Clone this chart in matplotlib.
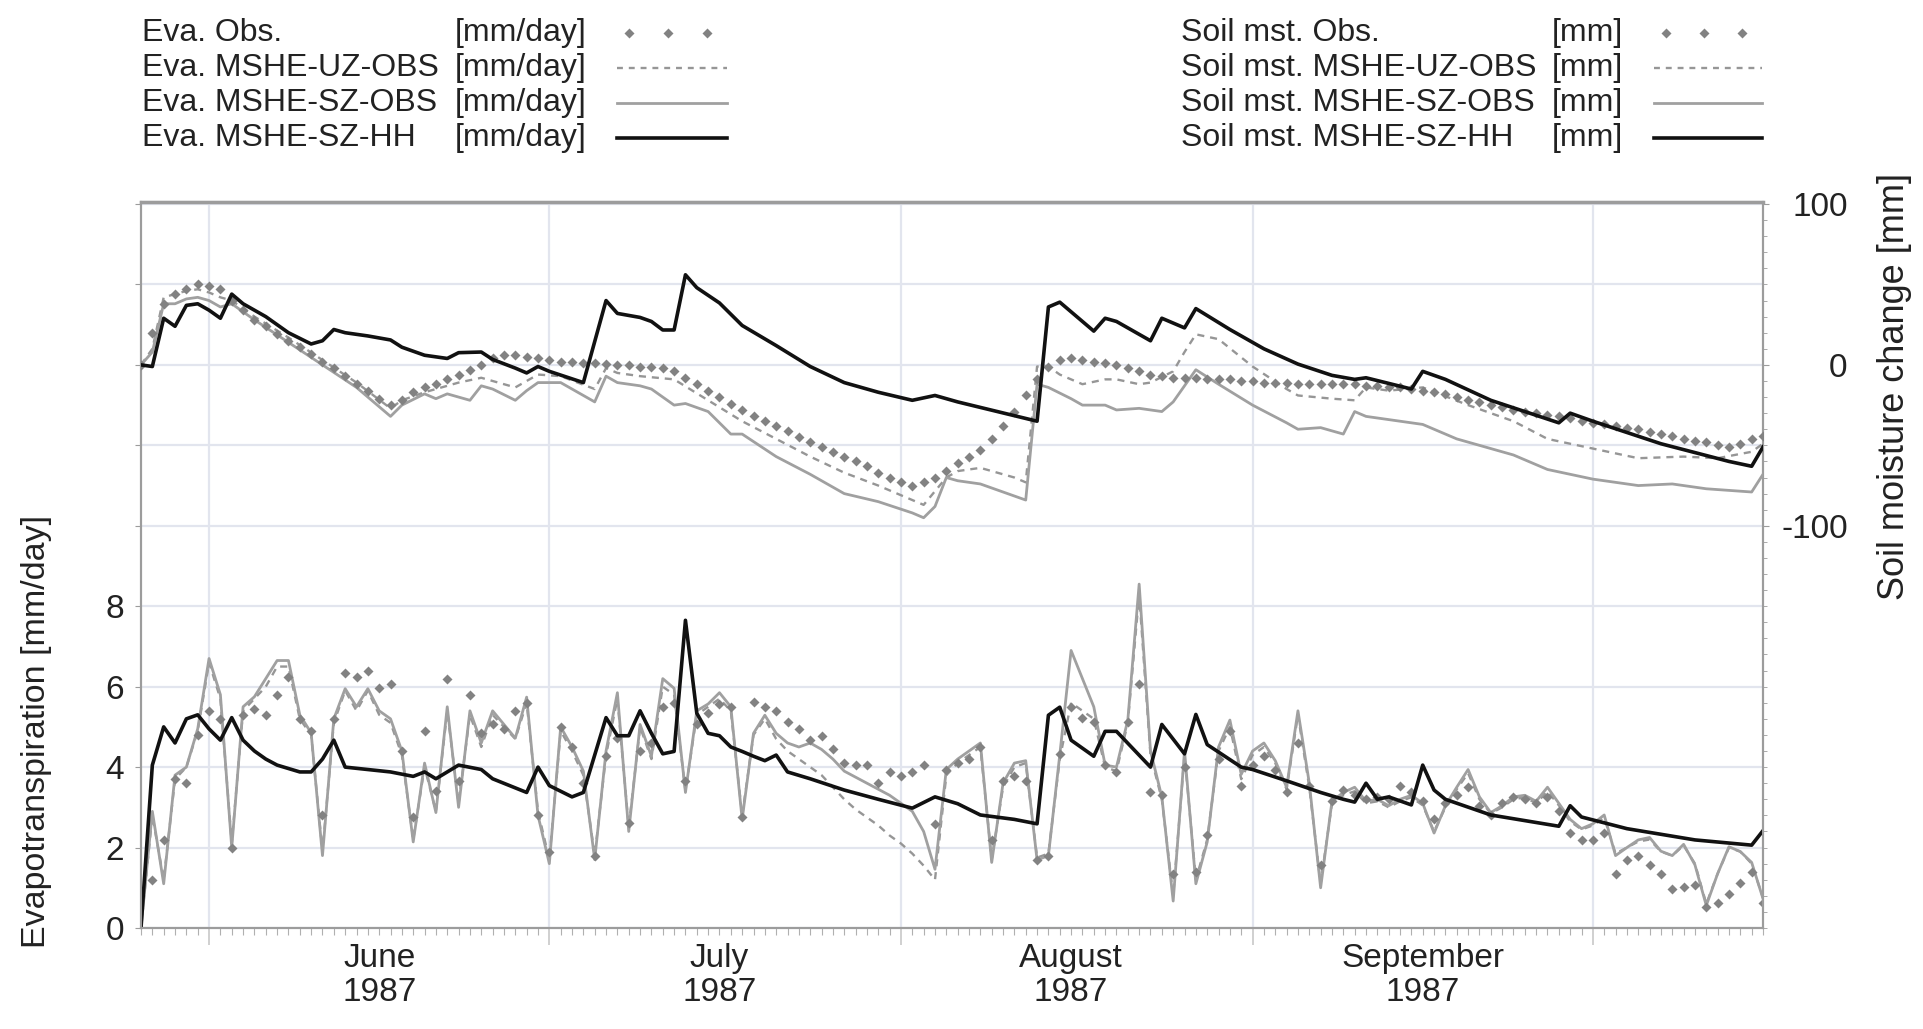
import numpy as np
import matplotlib
matplotlib.use("Agg")
import matplotlib.pyplot as plt
from matplotlib.lines import Line2D
from matplotlib.ticker import FixedLocator, MultipleLocator

plt.rcParams['font.family'] = ['Liberation Sans', 'DejaVu Sans']
plt.rcParams['axes.unicode_minus'] = False

START = np.datetime64('1987-05-26')
N_DAYS = 144

month_starts = ['1987-06-01', '1987-07-01', '1987-08-01', '1987-09-01', '1987-10-01']
month_mids = ['1987-06-16', '1987-07-16', '1987-08-16', '1987-09-16']
month_labels = ['June\n1987', 'July\n1987', 'August\n1987', 'September\n1987']

# ---- evapotranspiration [mm/day] ----
eva_obs_start = 1
eva_obs = [1.2, 2.2, 3.7, 3.6, 4.8, 5.4, 5.2, 2.0, 5.3, 5.45,
           5.3, 5.8, 6.25, 5.2, 4.9, 2.8, 5.2, 6.35, 6.25, 6.4,
           5.96, 6.07, 4.4, 2.76, 4.9, 3.4, 6.2, 3.66, 5.8, 4.84,
           5.06, 4.95, 5.4, 5.6, 2.8, 1.9, 5.0, 4.5, 3.6, 1.8,
           4.27, 4.72, 2.6, 4.4, 4.6, 5.5, 5.6, 3.66, 5.06, 5.34,
           5.57, 5.5, 2.76, 5.62, 5.5, 5.4, 5.12, 4.95, 4.67, 4.78,
           4.44, 4.1, 4.05, 4.05, 3.6, 3.88, 3.77, 3.88, 4.05, 2.59,
           3.94, 4.1, 4.2, 4.5, 2.2, 3.66, 3.77, 3.66, 1.69, 1.8,
           4.33, 5.5, 5.23, 5.12, 4.05, 3.88, 5.12, 6.07, 3.37, 3.3,
           1.35, 4.0, 1.4, 2.3, 4.2, 4.9, 3.54, 4.05, 4.27, 3.94,
           3.37, 4.6, 3.54, 1.57, 3.15, 3.43, 3.3, 3.2, 3.26, 3.2,
           3.54, 3.37, 3.15, 2.7, 3.1, 3.3, 3.5, 3.04, 2.81, 3.1,
           3.26, 3.2, 3.1, 3.26, 2.92, 2.36, 2.19, 2.19, 2.36, 1.35,
           1.69, 1.8, 1.57, 1.35, 0.96, 1.01, 1.07, 0.51, 0.62, 0.84,
           1.12, 1.4, 0.62]

eva_sz_obs = [0, 2.9, 1.1, 3.8, 4.0, 4.95, 6.7, 5.8, 2.0, 5.5,
              5.75, 6.2, 6.65, 6.65, 5.3, 4.85, 1.8, 5.2, 5.95, 5.5,
              5.95, 5.4, 5.2, 4.4, 2.14, 4.1, 2.87, 5.5, 3.0, 5.4,
              4.6, 5.4, 5.06, 4.72, 5.74, 2.8, 1.6, 5.0, 4.5, 3.9,
              1.7, 4.4, 5.85, 2.4, 5.06, 4.27, 6.2, 5.96, 3.37, 5.4,
              5.57, 5.85, 5.5, 2.7, 4.84, 5.29, 4.84, 4.6, 4.5, 4.6,
              4.44, 4.2, 3.9, 3.75, 3.6, 3.45, 3.3, 3.1, 2.9, 2.4,
              1.46, 3.94, 4.2, 4.4, 4.6, 1.63, 3.6, 4.1, 4.16, 1.69,
              1.8, 4.3, 6.9, 6.2, 5.5, 4.05, 4.0, 5.17, 8.55, 4.4,
              3.26, 0.67, 4.4, 1.1, 2.14, 4.5, 5.17, 3.82, 4.4, 4.6,
              4.16, 3.5, 5.4, 3.6, 1.0, 3.15, 3.37, 3.5, 3.15, 3.2,
              3.04, 3.2, 3.3, 3.1, 2.36, 3.04, 3.5, 3.94, 3.26, 2.87,
              3.04, 3.26, 3.3, 3.15, 3.5, 3.1, 2.7, 2.47, 2.59, 2.81,
              1.8, 2.0, 2.19, 2.25, 1.91, 1.8, 2.08, 1.57, 0.56, 1.35,
              2.02, 1.9, 1.63, 0.73]

eva_uz_obs = [0, 2.8, 1.2, 3.7, 4.0, 4.9, 6.6, 5.7, 2.1, 5.4,
              5.7, 6.0, 6.5, 6.5, 5.2, 4.8, 1.9, 5.1, 5.9, 5.4,
              5.9, 5.3, 5.1, 4.3, 2.2, 4.0, 2.9, 5.4, 3.1, 5.3,
              4.5, 5.3, 5.0, 4.7, 5.6, 2.9, 1.7, 4.9, 4.4, 3.8,
              1.8, 4.3, 5.7, 2.5, 5.0, 4.2, 6.0, 5.8, 3.4, 5.3,
              5.5, 5.7, 5.4, 2.8, 4.8, 5.2, 4.7, 4.4, 4.2, 4.0,
              3.8, 3.5, 3.2, 2.95, 2.75, 2.55, 2.3, 2.1, 1.85, 1.55,
              1.2, 3.8, 4.1, 4.3, 4.5, 1.7, 3.5, 4.0, 4.1, 1.75,
              1.85, 4.2, 5.6, 5.4, 5.2, 4.0, 3.9, 5.1, 8.3, 4.3,
              3.2, 0.8, 4.3, 1.2, 2.2, 4.4, 5.0, 3.7, 4.3, 4.5,
              4.1, 3.45, 5.3, 3.5, 1.1, 3.1, 3.3, 3.4, 3.1, 3.15,
              3.0, 3.15, 3.25, 3.05, 2.4, 3.0, 3.45, 3.85, 3.2, 2.85,
              3.0, 3.2, 3.25, 3.1, 3.4, 3.05, 2.65, 2.45, 2.55, 2.75,
              1.85, 2.0, 2.15, 2.2, 1.9, 1.8, 2.05, 1.6, 0.6, 1.35,
              2.0, 1.9, 1.6, 0.75]

eva_hh_days = [0, 1, 2, 3, 4, 5, 6, 7, 8, 9, 10, 11, 12,
               14, 15, 16, 17, 18, 20, 22, 24, 25, 26,
               28, 30, 31, 34, 35, 36, 38, 39, 41, 42,
               43, 44, 45, 46, 47, 48, 49, 50, 51, 52,
               53, 54, 55, 56, 57, 59, 62, 65, 68, 70,
               72, 74, 77, 79, 80, 81, 82, 84, 85, 86,
               89, 90, 92, 93, 94, 97, 98, 101, 104, 106,
               107, 108, 109, 110, 112, 113, 114, 115, 119, 125,
               126, 127, 131, 137, 142, 143]
eva_hh = [0, 4.05, 5.0, 4.6, 5.2, 5.3, 4.95, 4.67, 5.23, 4.67, 4.4, 4.2, 4.05,
          3.88, 3.88, 4.2, 4.67, 4.0, 3.94, 3.88, 3.77, 3.88, 3.71,
          4.05, 3.94, 3.71, 3.37, 4.0, 3.54, 3.26, 3.37, 5.23, 4.78,
          4.78, 5.4, 4.84, 4.33, 4.39, 7.65, 5.34, 4.84, 4.78, 4.5,
          4.39, 4.27, 4.16, 4.3, 3.88, 3.71, 3.43, 3.2, 2.98, 3.26,
          3.09, 2.81, 2.7, 2.59, 5.29, 5.49, 4.67, 4.27, 4.89, 4.89,
          4.0, 5.06, 4.33, 5.31, 4.56, 4.0, 3.94, 3.66, 3.37, 3.2,
          3.13, 3.6, 3.2, 3.26, 3.06, 4.05, 3.43, 3.2, 2.81, 2.53,
          3.04, 2.76, 2.47, 2.19, 2.06, 2.42]

# ---- soil moisture change [mm] ----
soil_obs = [0, 20, 38, 44, 47, 50, 49, 47, 40, 34,
            28, 24, 19, 15, 11, 7, 2, -2, -7, -12,
            -16, -21, -25, -22, -17, -14, -12, -9, -6, -3,
            0, 4, 6, 6, 5, 4, 3, 2, 2, 1,
            1, 0.5, 0, 0, -1, -1, -2, -4, -8, -12,
            -16, -20, -24, -28, -32, -35, -38, -41, -45, -48,
            -51, -54, -57, -60, -63, -67, -70, -73, -75, -73,
            -70, -66, -61, -57, -53, -46, -38, -29, -19, -9,
            -1, 3, 4, 3, 2, 1, 0, -2, -4, -6,
            -7, -8, -8, -8, -9, -9, -9, -10, -10, -11,
            -11, -11, -12, -12, -12, -12, -12, -12, -13, -13,
            -14, -14, -15, -16, -17, -18, -20, -22, -23, -25,
            -26, -28, -29, -30, -31, -32, -33, -35, -36, -37,
            -38, -39, -40, -42, -43, -44, -46, -47, -48, -50,
            -51, -49, -46, -44]

soil_uz_days = [0, 1, 2, 3, 4, 5, 6, 7, 8, 10,
                13, 16, 19, 22, 23, 25, 27, 28, 30, 31,
                33, 34, 35, 37, 40, 41, 42, 44, 47, 50,
                53, 56, 59, 62, 65, 68, 69, 71, 72, 74,
                77, 78, 79, 80, 81, 83, 85, 86, 88, 89,
                91, 92, 93, 95, 98, 101, 102, 105, 107, 108,
                110, 113, 117, 121, 124, 128, 132, 136, 139, 142,
                143]
soil_uz = [0, 10, 42, 44, 46, 47, 45, 42, 40, 30,
           17, 3, -11, -27, -22, -17, -13, -11, -8, -10,
           -14, -10, -6, -7, -15, -2, -5, -7, -9, -22,
           -35, -46, -57, -67, -75, -84, -87, -70, -66, -64,
           -70, -73, -1, -1, -6, -12, -9, -9, -12, -11,
           -4, 8, 19, 16, -1, -15, -19, -21, -22, -14,
           -16, -14, -25, -35, -46, -52, -58, -57, -58, -54,
           -49]

soil_sz_days = [0, 1, 2, 3, 4, 5, 6, 7, 8, 10,
                13, 16, 19, 22, 23, 25, 26, 27, 29, 30,
                31, 33, 34, 35, 37, 38, 40, 41, 42, 44,
                45, 47, 48, 50, 52, 53, 56, 59, 62, 65,
                68, 69, 70, 71, 72, 74, 78, 79, 80, 82,
                83, 85, 86, 88, 90, 91, 93, 95, 98, 101,
                102, 104, 106, 107, 108, 110, 113, 116, 121, 124,
                128, 132, 135, 138, 142, 143]
soil_sz = [0, 8, 38, 38, 41, 42, 40, 36, 38, 28,
           14, 0, -14, -32, -25, -18, -21, -18, -22, -13,
           -15, -22, -16, -11, -11, -15, -23, -7, -11, -13,
           -15, -25, -24, -29, -43, -43, -57, -68, -80, -85,
           -92, -95, -88, -70, -72, -74, -84, -12, -14, -21,
           -25, -25, -28, -27, -29, -23, -3, -12, -25, -36,
           -40, -39, -43, -29, -32, -34, -37, -46, -56, -65,
           -71, -75, -74, -77, -79, -68]

soil_hh_days = [0, 1, 2, 3, 4, 5, 6, 7, 8, 9,
                11, 13, 15, 16, 17, 18, 20, 22, 23, 25,
                27, 28, 30, 31, 33, 34, 35, 36, 39, 41,
                42, 44, 45, 46, 47, 48, 49, 51, 53, 56,
                59, 62, 65, 68, 70, 72, 79, 80, 81, 82,
                84, 85, 86, 89, 90, 92, 93, 96, 99, 102,
                105, 107, 108, 110, 112, 113, 115, 119, 125, 126,
                128, 134, 140, 142, 143]
soil_hh = [0, -1, 29, 24, 37, 38, 34, 29, 44, 38,
           30, 20, 13, 15, 22, 20, 18, 15.5, 11, 6,
           4, 7.6, 8, 3.4, -2, -5, -1, -4, -11, 40,
           32, 29.5, 27, 21.7, 21.7, 56, 48, 38.5, 24.5, 12,
           -1, -11, -17, -22, -19, -23, -35, 36, 39, 33,
           21, 29, 27, 15, 29, 23, 35, 22, 10, 0.5,
           -6.5, -9, -8, -11.5, -15, -4, -9, -22, -36, -30,
           -35, -49, -60, -63, -51]


def to_dates(days):
    return START + np.asarray(days).astype('timedelta64[D]')


all_days = np.arange(N_DAYS)
grey = '#a0a0a0'
dash_grey = '#969696'
mark_grey = '#828282'
black = '#111111'
grid_c = '#e2e5ee'
spine_c = '#9c9c9c'
FS = 24

fig = plt.figure(figsize=(19.23, 10.29), dpi=100)
W, H = 1923, 1029
ax = fig.add_axes([141 / W, 1 - 928 / H, (1763 - 141) / W, (928 - 202) / H])
ax2 = ax.twinx()

# evapotranspiration (left axis)
ax.plot(to_dates(all_days), eva_uz_obs, color=dash_grey, lw=1.7, dashes=(3, 2.5), zorder=3)
ax.plot(to_dates(all_days), eva_sz_obs, color=grey, lw=2.0, zorder=3)
ax.plot(to_dates(np.arange(eva_obs_start, eva_obs_start + len(eva_obs))), eva_obs,
        ls='none', marker='D', ms=4.6, color=mark_grey, mec='none', zorder=4)
ax.plot(to_dates(eva_hh_days), eva_hh, color=black, lw=2.6, zorder=5)

# soil moisture (right axis)
ax2.plot(to_dates(soil_uz_days), soil_uz, color=dash_grey, lw=1.7, dashes=(3, 2.5), zorder=3)
ax2.plot(to_dates(soil_sz_days), soil_sz, color=grey, lw=2.0, zorder=3)
ax2.plot(to_dates(all_days), soil_obs, ls='none', marker='D', ms=4.6,
         color=mark_grey, mec='none', zorder=4)
ax2.plot(to_dates(soil_hh_days), soil_hh, color=black, lw=2.6, zorder=5)

ax.set_xlim(START, START + np.timedelta64(N_DAYS - 1, 'D'))
ax.set_ylim(0, 18.05)
ax2.set_ylim(-350, 101.25)

# y ticks / grid
ax.set_yticks(np.arange(0, 19, 2))
ax.set_yticklabels([str(v) if v <= 8 else '' for v in range(0, 19, 2)])
ax.tick_params(axis='y', labelsize=FS, length=4, color=spine_c, pad=8, labelcolor='#222222')
ax.yaxis.grid(True, color=grid_c, lw=1.6)

ax2.set_yticks([-100, 0, 100])
ax2.yaxis.set_minor_locator(MultipleLocator(10))
ax2.tick_params(axis='y', which='major', labelsize=FS, length=4, color=spine_c,
                pad=57, labelcolor='#222222')
ax2.tick_params(axis='y', which='minor', length=3, color=spine_c)
for lab in ax2.get_yticklabels():
    lab.set_horizontalalignment('right')

# x ticks: month starts (grid), daily minor
ax.xaxis.set_major_locator(FixedLocator(
    matplotlib.dates.date2num(np.array(month_starts, dtype='datetime64[D]'))))
ax.xaxis.set_minor_locator(FixedLocator(matplotlib.dates.date2num(to_dates(all_days))))
ax.set_xticklabels([])
ax.tick_params(axis='x', which='major', length=12, color='#c8c8c8', width=1.2)
ax.tick_params(axis='x', which='minor', length=5, color='#b0b0b0', width=0.8)
ax.xaxis.grid(True, which='major', color=grid_c, lw=1.6)
ax.set_axisbelow(True)

for d, lab in zip(month_mids, month_labels):
    ax.text(np.datetime64(d), -0.02, lab, transform=ax.get_xaxis_transform(),
            ha='center', va='top', fontsize=FS, color='#222222', linespacing=1.15)

for a in (ax, ax2):
    for s in a.spines.values():
        s.set_color(spine_c)
        s.set_linewidth(1.5)
ax2.spines['top'].set_linewidth(2.5)

fig.text(37 / W, 1 - 732 / H, 'Evapotranspiration [mm/day]', rotation=90,
         ha='center', va='center', fontsize=24.5, color='#222222')
fig.text(1895 / W, 1 - 386 / H, 'Soil moisture change [mm]', rotation=90,
         ha='center', va='center', fontsize=26, color='#222222')

# legends drawn as a small table
rows_y = [33, 68, 103, 138]
eva_names = ['Eva. Obs.', 'Eva. MSHE-UZ-OBS', 'Eva. MSHE-SZ-OBS', 'Eva. MSHE-SZ-HH']
soil_names = ['Soil mst. Obs.', 'Soil mst. MSHE-UZ-OBS', 'Soil mst. MSHE-SZ-OBS',
              'Soil mst. MSHE-SZ-HH']
styles = [dict(ls='none', marker='D', ms=4.6, color=mark_grey, mec='none'),
          dict(color=dash_grey, lw=1.7, dashes=(2.5, 2.5)),
          dict(color=grey, lw=2.0),
          dict(color=black, lw=2.6)]


def draw_legend(names, unit, x_text, x_unit, x0, x1):
    for name, y, st in zip(names, rows_y, styles):
        fy = 1 - y / H
        fig.text(x_text / W, fy, name, ha='left', va='center', fontsize=23, color='#222222')
        fig.text(x_unit / W, fy, unit, ha='left', va='center', fontsize=23, color='#222222')
        if st.get('marker'):
            xs = np.linspace(x0 + 12, x1 - 20, 3) / W
        else:
            xs = np.array([x0, x1]) / W
        fig.add_artist(Line2D(xs, [fy] * len(xs), transform=fig.transFigure, **st))


draw_legend(eva_names, '[mm/day]', 142, 455, 617, 727)
draw_legend(soil_names, '[mm]', 1181, 1552, 1654, 1762)

fig.savefig('out.png', dpi=100, facecolor='white')
